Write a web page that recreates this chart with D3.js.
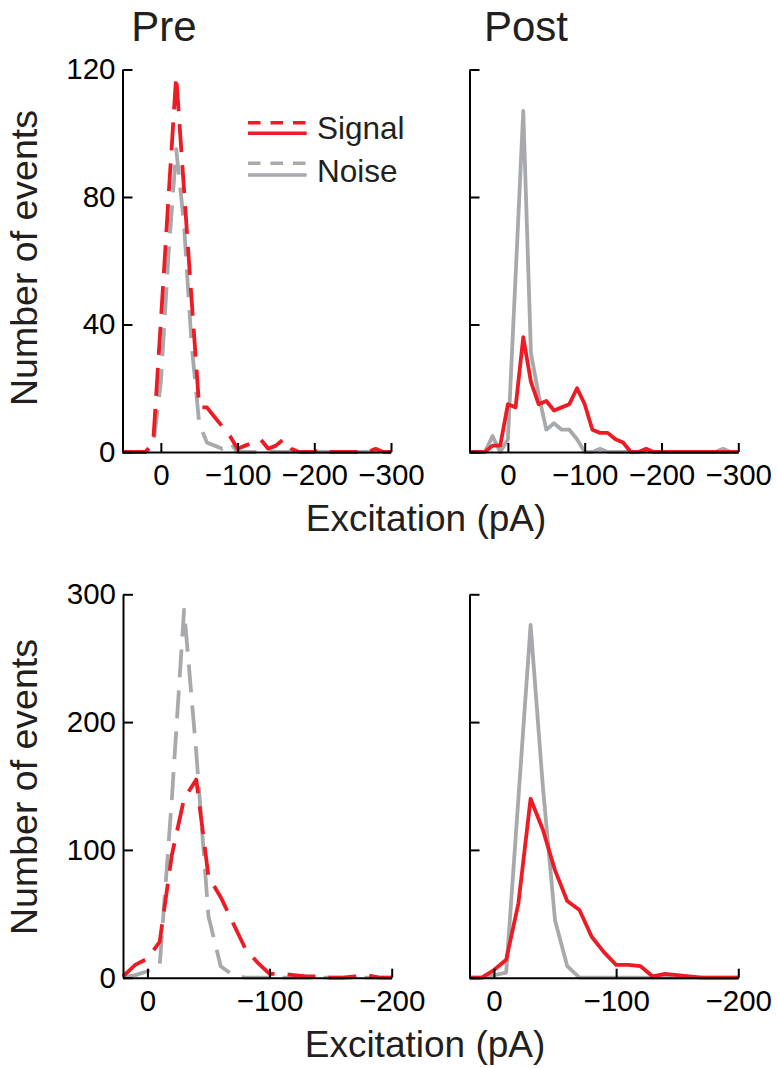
<!DOCTYPE html>
<html>
<head>
<meta charset="utf-8">
<script src="https://cdn.jsdelivr.net/npm/d3@7"></script>
<style>
  html, body { margin: 0; padding: 0; background: #fff; }
  svg { display: block; }
</style>
</head>
<body>
<svg id="chart" width="777" height="1068"></svg>
<script>
// ---------------- DATA ----------------
const binsTop = [50, 40, 30, 20, 10, 0, -10, -20, -30, -40, -50, -60, -70, -80, -90, -100,
  -110, -120, -130, -140, -150, -160, -170, -180, -190, -200, -210, -220, -230, -240, -250,
  -260, -270, -280, -290, -300];
const binsBottom = [20, 10, 0, -10, -20, -30, -40, -50, -60, -70, -80, -90, -100, -110,
  -120, -130, -140, -150, -160, -170, -180, -190, -200];

const preTopSignal = [0, 0, 0, 0, 3, 41, 80, 118, 83, 48, 14, 14, 11, 8, 5, 1,
  2, 3, 4, 1, 2, 4, 1, 0, 0, 0, 1, 0, 0, 0, 0, 0, 0, 1, 0, 0];
const preTopNoise = [0, 0, 0, 0, 2, 22, 62, 95, 72, 34, 9, 3, 2, 1, 3, 0,
  0, 0, 0, 0, 0, 0, 0, 0, 0, 0, 0, 0, 0, 0, 0, 0, 0, 0, 0, 0];
const postTopSignal = [0, 0, 0, 2, 2, 15, 14, 36, 22, 15, 16, 13, 14, 15, 20, 15,
  7, 6, 6, 4, 3, 0, 0, 1, 0, 0, 0, 0, 0, 0, 0, 0, 0, 0, 0, 0];
const postTopNoise = [0, 0, 0, 5, 0, 4, 55, 107, 31, 18, 7, 9, 7, 7, 4, 0,
  0, 1, 0, 0, 0, 0, 0, 0, 0, 0, 0, 0, 0, 0, 0, 0, 0, 1, 0, 0];

const preBottomSignal = [1, 10, 15, 28, 96, 140, 155, 79, 63, 43, 23, 12, 3, 3,
  2, 1, 1, 0, 0, 1, 2, 0, 0];
const preBottomNoise = [0, 2, 5, 9, 140, 288, 176, 48, 9, 2, 0, 0, 0, 0,
  0, 0, 0, 0, 0, 0, 0, 0, 0];
const postBottomSignal = [0, 0, 6, 14, 58, 140, 116, 84, 60, 53, 32, 20, 10, 10,
  9, 1, 3, 2, 1, 0, 0, 0, 0];
const postBottomNoise = [0, 0, 2, 4, 140, 276, 150, 45, 9, 0, 0, 0, 0, 0,
  0, 0, 0, 0, 0, 0, 0, 0, 0];

const xTicksTop = [0, -100, -200, -300];
const xTicksBottom = [0, -100, -200];
const yTicksTop = [0, 40, 80, 120];
const yTicksBottom = [0, 100, 200, 300];

const columnTitles = ["Pre", "Post"];
const seriesNames = ["Signal", "Noise"];
const yLabel = "Number of events";
const xLabel = "Excitation (pA)";

// ---------------- STYLE ----------------
const RED = "#ED1C24";
const GRAY = "#A7A9AC";
const INK = "#231F20";
const FONT = "'Liberation Sans', Arial, Helvetica, sans-serif";
const DASH = "28,13";

const svg = d3.select("#chart");

const panels = [
  { bins: binsTop, signal: preTopSignal, noise: preTopNoise, dashed: true,
    xDom: [50, -300], xRange: [122.5, 391], yDom: [0, 120], yRange: [452, 69.5],
    xTicks: xTicksTop, yTicks: yTicksTop, yLabels: true },
  { bins: binsTop, signal: postTopSignal, noise: postTopNoise, dashed: false,
    xDom: [50, -300], xRange: [469.5, 738.3], yDom: [0, 120], yRange: [452, 69.5],
    xTicks: xTicksTop, yTicks: yTicksTop, yLabels: false },
  { bins: binsBottom, signal: preBottomSignal, noise: preBottomNoise, dashed: true,
    xDom: [20, -200], xRange: [123, 391.7], yDom: [0, 300], yRange: [977.7, 594.3],
    xTicks: xTicksBottom, yTicks: yTicksBottom, yLabels: true },
  { bins: binsBottom, signal: postBottomSignal, noise: postBottomNoise, dashed: false,
    xDom: [20, -200], xRange: [469.5, 738.3], yDom: [0, 300], yRange: [977.7, 594.3],
    xTicks: xTicksBottom, yTicks: yTicksBottom, yLabels: false }
];

const fmt = v => v < 0 ? "\u2212" + Math.abs(v) : String(v);

panels.forEach(p => {
  const x = d3.scaleLinear().domain(p.xDom).range(p.xRange);
  const y = d3.scaleLinear().domain(p.yDom).range(p.yRange);
  const g = svg.append("g");

  const line = d3.line().x(d => x(d[0])).y(d => y(d[1]));
  [[p.noise, GRAY], [p.signal, RED]].forEach(([vals, col]) => {
    const pts = p.bins.map((b, i) => [b, vals[i]]);
    g.append("path")
      .attr("d", line(pts))
      .attr("fill", "none")
      .attr("stroke", col)
      .attr("stroke-width", 3.8)
      .attr("stroke-linejoin", "round")
      .attr("stroke-dasharray", p.dashed ? DASH : null);
  });

  // Axes
  const yAxis = d3.axisLeft(y).tickValues(p.yTicks).tickSizeInner(-10).tickSizeOuter(0)
    .tickPadding(7).tickFormat(p.yLabels ? fmt : () => "");
  const ya = g.append("g").attr("transform", `translate(${p.xRange[0]},0)`).call(yAxis);

  const xAxis = d3.axisBottom(x).tickValues(p.xTicks).tickSizeInner(-9).tickSizeOuter(0)
    .tickPadding(12).tickFormat(fmt);
  const xa = g.append("g").attr("transform", `translate(0,${p.yRange[0]})`).call(xAxis);

  [ya, xa].forEach(a => {
    a.attr("font-family", FONT).attr("font-size", 29.5);
    a.selectAll("path, line").attr("stroke", "#000").attr("stroke-width", 2);
    a.selectAll("text").attr("fill", "#000");
  });
});

// Column titles
svg.append("text").attr("x", 164).attr("y", 41).attr("text-anchor", "middle")
  .attr("font-family", FONT).attr("font-size", 42).attr("fill", INK).text(columnTitles[0]);
svg.append("text").attr("x", 526).attr("y", 41).attr("text-anchor", "middle")
  .attr("font-family", FONT).attr("font-size", 42).attr("fill", INK).text(columnTitles[1]);

// Y labels
[258, 787].forEach(cy => {
  svg.append("text").attr("transform", `translate(37,${cy}) rotate(-90)`)
    .attr("text-anchor", "middle").attr("font-family", FONT).attr("font-size", 37.5)
    .attr("fill", INK).text(yLabel);
});
// X labels
[[426, 531], [425, 1057]].forEach(([cx, by]) => {
  svg.append("text").attr("x", cx).attr("y", by).attr("text-anchor", "middle")
    .attr("font-family", FONT).attr("font-size", 37).attr("fill", INK).text(xLabel);
});

// Legend
const legend = svg.append("g");
const legendRows = [
  { name: seriesNames[0], color: RED, yDash: 122.7, ySolid: 133.3, yText: 138.5 },
  { name: seriesNames[1], color: GRAY, yDash: 163.3, ySolid: 175, yText: 182 }
];
legendRows.forEach(r => {
  legend.append("line").attr("x1", 248).attr("x2", 306.7).attr("y1", r.yDash).attr("y2", r.yDash)
    .attr("stroke", r.color).attr("stroke-width", 3.6).attr("stroke-dasharray", "12.5,10");
  legend.append("line").attr("x1", 248).attr("x2", 306.7).attr("y1", r.ySolid).attr("y2", r.ySolid)
    .attr("stroke", r.color).attr("stroke-width", 3.6);
  legend.append("text").attr("x", 317).attr("y", r.yText).attr("font-family", FONT)
    .attr("font-size", 31.5).attr("fill", INK).text(r.name);
});
</script>
</body>
</html>
